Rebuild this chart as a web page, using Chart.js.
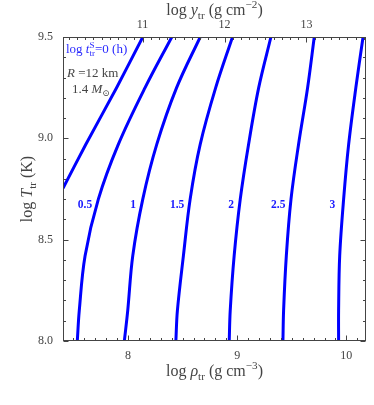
<!DOCTYPE html>
<html>
<head>
<meta charset="utf-8">
<script src="https://cdn.jsdelivr.net/npm/chart.js@4.4.1/dist/chart.umd.min.js"></script>
<style>
    html, body { margin: 0; padding: 0; background: #fff; }
</style>
</head>
<body>
<canvas id="chart" width="374" height="405"></canvas>
<script>
const logT = [8.0, 8.15, 8.42, 8.70, 8.97, 9.25, 9.5];
const rho05 = [7.535, 7.553, 7.606, 7.728, 7.911, 8.156, 8.401];
const rho1 = [7.966, 7.997, 8.043, 8.135, 8.263, 8.445, 8.661];
const rho15 = [8.438, 8.452, 8.507, 8.569, 8.661, 8.803, 8.957];
const rho2 = [8.927, 8.936, 8.972, 9.028, 9.104, 9.197, 9.309];
const rho25 = [9.419, 9.425, 9.450, 9.493, 9.562, 9.645, 9.706];
const rho3 = [9.929, 9.929, 9.939, 9.975, 10.021, 10.087, 10.153];
// the log t = 0 curve leaves through the left edge
const logT0 = [8.754, 8.967, 9.25, 9.5];
const rho0 = [7.404, 7.610, 7.895, 8.135];

const curveLabels = ['0.5', '1', '1.5', '2', '2.5', '3'];
const labelRho = [7.606, 8.046, 8.45, 8.945, 9.376, 9.872];
const labelT = 8.67;

const rhoTicks = [8, 9, 10];
const tTicks = [8.0, 8.5, 9.0, 9.5];
const colTicks = [11, 12, 13];

const FAM = '"Liberation Serif", "DejaVu Serif", serif';
const INK = '#444';
const BLUE = '#0000ff';

function pts(xs, ys) {
    return xs.map((x, i) => ({x: x, y: ys[i]}));
}

function curve(xs, ys, tension) {
    return {
        data: pts(xs, ys),
        showLine: true,
        borderColor: BLUE,
        borderWidth: 3,
        pointRadius: 0,
        tension: tension,
        borderCapStyle: 'butt'
    };
}

// text with sub/superscripts: parts = [{t, i, sub, sup, back}]
function drawRich(ctx, parts, x, y, size, color, align) {
    const fontOf = p => (p.i ? 'italic ' : '') + ((p.sub || p.sup) ? size * 0.7 : size) + 'px ' + FAM;
    let total = 0;
    const ws = parts.map(p => {
        ctx.font = fontOf(p);
        const w = ctx.measureText(p.t).width;
        if (!p.back) total += w;
        return w;
    });
    let cx = align === 'center' ? x - total / 2 : x;
    ctx.fillStyle = color;
    ctx.textAlign = 'left';
    ctx.textBaseline = 'alphabetic';
    parts.forEach((p, k) => {
        ctx.font = fontOf(p);
        let dy = 0;
        if (p.sub) dy = size * 0.22;
        if (p.sup) dy = -size * 0.42;
        ctx.fillText(p.t, cx, y + dy);
        if (!p.back) cx += ws[k];
    });
}

function minors(lo, hi, step) {
    const out = [];
    for (let v = Math.ceil(lo / step - 1e-6) * step; v <= hi + 1e-9; v += step) out.push(v);
    return out;
}

const decor = {
    id: 'decor',
    afterDraw(chart) {
        const ctx = chart.ctx;
        const ca = chart.chartArea;
        const sx = chart.scales.x, sx2 = chart.scales.x2, sy = chart.scales.y;
        ctx.save();
        ctx.strokeStyle = INK;
        ctx.lineWidth = 1;
        const L = ca.left + 0.5, R = ca.right - 0.5, T = ca.top + 0.5, B = ca.bottom - 0.5;
        ctx.strokeRect(L, T, R - L, B - T);

        ctx.beginPath();
        // bottom
        minors(sx.min, sx.max, 0.1).forEach(v => {
            const p = Math.round(sx.getPixelForValue(v)) + 0.5;
            const len = rhoTicks.some(t => Math.abs(t - v) < 1e-6) ? 5 : 2.5;
            ctx.moveTo(p, B); ctx.lineTo(p, B - len);
        });
        // top
        minors(sx2.min, sx2.max, 0.1).forEach(v => {
            const p = Math.round(sx2.getPixelForValue(v)) + 0.5;
            const len = colTicks.some(t => Math.abs(t - v) < 1e-6) ? 5 : 2.5;
            ctx.moveTo(p, T); ctx.lineTo(p, T + len);
        });
        // left and right
        minors(sy.min, sy.max, 0.1).forEach(v => {
            const p = Math.round(sy.getPixelForValue(v)) + 0.5;
            const len = tTicks.some(t => Math.abs(t - v) < 1e-6) ? 5 : 2.5;
            ctx.moveTo(L, p); ctx.lineTo(L + len, p);
            ctx.moveTo(R, p); ctx.lineTo(R - len, p);
        });
        ctx.stroke();

        // axis titles
        const mid = (ca.left + ca.right) / 2;
        drawRich(ctx, [{t: 'log '}, {t: 'ρ', i: true}, {t: 'tr', sub: true}, {t: ' (g cm'}, {t: '−3', sup: true}, {t: ')'}],
            mid, 376, 16, INK, 'center');
        drawRich(ctx, [{t: 'log '}, {t: 'y', i: true}, {t: 'tr', sub: true}, {t: ' (g cm'}, {t: '−2', sup: true}, {t: ')'}],
            mid, 15, 16, INK, 'center');
        ctx.save();
        ctx.translate(32, (ca.top + ca.bottom) / 2);
        ctx.rotate(-Math.PI / 2);
        drawRich(ctx, [{t: 'log '}, {t: 'T', i: true}, {t: 'tr', sub: true}, {t: ' (K)'}], 0, 0, 16, INK, 'center');
        ctx.restore();

        // in-plot notes
        drawRich(ctx, [{t: 'log '}, {t: 't', i: true}, {t: 'S', sup: true, back: true}, {t: 'tr', sub: true}, {t: '=0 (h)'}],
            ca.left + 3, 53, 13, '#2a2aff', 'left');
        drawRich(ctx, [{t: 'R', i: true}, {t: ' =12 km'}], ca.left + 4, 77, 13, INK, 'left');
        drawRich(ctx, [{t: '1.4 '}, {t: 'M', i: true}, {t: '⊙', sub: true}], ca.left + 9, 93, 13, INK, 'left');

        // curve labels
        ctx.font = 'bold 11.5px ' + FAM;
        ctx.fillStyle = '#1a1aff';
        ctx.textAlign = 'center';
        ctx.textBaseline = 'middle';
        curveLabels.forEach((s, i) => {
            ctx.fillText(s, sx.getPixelForValue(labelRho[i]), sy.getPixelForValue(labelT));
        });
        ctx.restore();
    }
};

const tickFont = {family: FAM, size: 12};

new Chart(document.getElementById('chart'), {
    type: 'scatter',
    data: {
        datasets: [
            curve(rho0, logT0, 0.2),
            curve(rho05, logT, 0.35),
            curve(rho1, logT, 0.35),
            curve(rho15, logT, 0.35),
            curve(rho2, logT, 0.35),
            curve(rho25, logT, 0.35),
            curve(rho3, logT, 0.35)
        ]
    },
    options: {
        responsive: false,
        animation: false,
        layout: {padding: {right: 8}},
        plugins: {legend: {display: false}, tooltip: {enabled: false}},
        scales: {
            x: {
                type: 'linear', position: 'bottom', min: 7.404, max: 10.18,
                afterBuildTicks: s => { s.ticks = rhoTicks.map(v => ({value: v})); },
                afterFit: s => { s.height = 64; },
                grid: {display: false, drawTicks: false},
                border: {display: false},
                ticks: {padding: 8, font: tickFont, color: INK, maxRotation: 0, callback: v => String(v)}
            },
            x2: {
                type: 'linear', axis: 'x', position: 'top', min: 10.03, max: 13.726,
                afterBuildTicks: s => { s.ticks = colTicks.map(v => ({value: v})); },
                afterFit: s => { s.height = 37; },
                grid: {display: false, drawTicks: false},
                border: {display: false},
                ticks: {padding: 5, font: tickFont, color: INK, maxRotation: 0, callback: v => String(v)}
            },
            y: {
                type: 'linear', position: 'left', min: 8.0, max: 9.5,
                afterBuildTicks: s => { s.ticks = tTicks.map(v => ({value: v})); },
                afterFit: s => { s.width = 63; },
                grid: {display: false, drawTicks: false},
                border: {display: false},
                ticks: {padding: 10, font: tickFont, color: INK, callback: v => v.toFixed(1)}
            }
        }
    },
    plugins: [decor]
});
</script>
</body>
</html>
